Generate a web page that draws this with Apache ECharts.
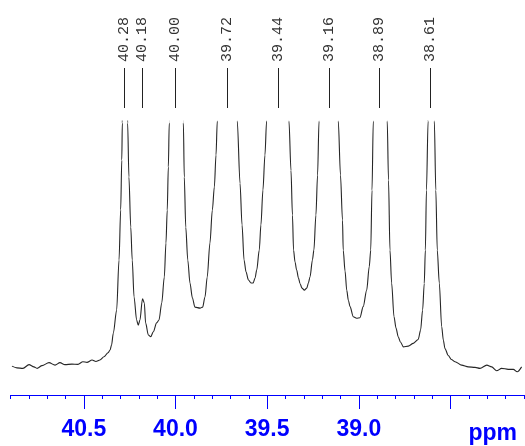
<!DOCTYPE html>
<html>
<head>
<meta charset="utf-8">
<script src="https://cdn.jsdelivr.net/npm/echarts@6/dist/echarts.min.js"></script>
<style>
  html, body { margin: 0; padding: 0; background: #ffffff; }
  #chart { width: 525px; height: 446px; }
</style>
</head>
<body>
<div id="chart"></div>
<script>
// 13C spectrum trace: chemical shift (ppm) and relative intensity
const shiftPpm = [
  40.892, 40.865, 40.832, 40.799, 40.772, 40.755, 40.728, 40.690, 40.657, 40.630,
  40.603, 40.565, 40.532, 40.505, 40.483, 40.455, 40.434, 40.412, 40.390, 40.368,
  40.357, 40.349, 40.339, 40.321, 40.308, 40.299, 40.293, 40.290, 40.280, 40.261,
  40.254, 40.244, 40.236, 40.226, 40.212, 40.203, 40.194, 40.180, 40.170, 40.163,
  40.148, 40.135, 40.121, 40.103, 40.090, 40.075, 40.061, 40.052, 40.045, 40.039,
  40.034, 40.000, 39.957, 39.952, 39.944, 39.933, 39.921, 39.908, 39.894, 39.866,
  39.852, 39.839, 39.827, 39.812, 39.799, 39.788, 39.779, 39.772, 39.720, 39.663,
  39.648, 39.637, 39.626, 39.615, 39.602, 39.588, 39.576, 39.566, 39.557, 39.543,
  39.534, 39.523, 39.512, 39.503, 39.440, 39.381, 39.370, 39.362, 39.356, 39.348,
  39.339, 39.329, 39.321, 39.310, 39.297, 39.284, 39.275, 39.266, 39.253, 39.245,
  39.234, 39.225, 39.217, 39.160, 39.112, 39.100, 39.089, 39.085, 39.075, 39.066,
  39.057, 39.048, 39.030, 39.012, 38.994, 38.976, 38.957, 38.943, 38.935, 38.928,
  38.921, 38.890, 38.845, 38.838, 38.830, 38.821, 38.808, 38.797, 38.785, 38.773,
  38.757, 38.730, 38.703, 38.676, 38.663, 38.652, 38.643, 38.637, 38.631, 38.622,
  38.610, 38.588, 38.580, 38.572, 38.561, 38.548, 38.539, 38.530, 38.512, 38.495,
  38.475, 38.439, 38.403, 38.366, 38.339, 38.302, 38.275, 38.248, 38.221, 38.185,
  38.157, 38.136, 38.112
];
const intensity = [
  0.7, 0.0, -0.2, 1.3, 0.4, -0.2, 0.9, 2.1, 1.1, 2.1,
  1.3, 1.5, 1.4, 2.5, 2.2, 3.2, 2.6, 3.2, 4.5, 6.1,
  7.2, 9.2, 14.1, 23.4, 43.7, 64.0, 84.2, 99.2, 300, 99.2,
  77.3, 57.0, 43.7, 28.7, 19.4, 17.3, 19.4, 28.0, 26.3, 18.2,
  13.3, 12.6, 14.6, 18.2, 19.4, 26.3, 36.8, 50.6, 63.9, 81.4,
  99.2, 700, 99.2, 77.3, 57.0, 43.7, 34.4, 28.4, 24.6, 24.2,
  24.6, 28.7, 36.8, 50.6, 63.9, 73.3, 86.2, 100, 1150, 100,
  74.8, 57.9, 43.7, 38.8, 35.6, 34.4, 34.4, 36.4, 39.6, 47.7,
  57.9, 72.0, 86.2, 100, 1300, 100, 80.0, 61.9, 47.7, 42.9,
  39.6, 36.4, 34.2, 32.3, 31.5, 32.3, 34.4, 36.9, 43.7, 47.7,
  61.9, 78.1, 100, 1150, 100, 78.1, 59.9, 47.7, 39.2, 31.5,
  27.4, 24.8, 20.7, 20.1, 20.3, 24.8, 31.5, 41.0, 47.7, 72.0,
  100, 700, 100, 76.1, 47.7, 34.4, 20.7, 16.1, 12.6, 10.5,
  8.5, 8.8, 9.9, 11.5, 15.3, 23.4, 34.2, 47.7, 72.0, 100,
  300, 100, 72.0, 47.7, 34.4, 16.7, 11.3, 7.8, 5.0, 3.4,
  2.5, 1.1, 0.4, 0.2, -0.2, 1.1, 0.4, -1.2, -0.2, -0.6,
  -0.6, -1.6, 0.4
];

// Picked peaks
const peakPpm = [40.28, 40.18, 40.00, 39.72, 39.44, 39.16, 38.89, 38.61];

// Scale ticks and labels
const axisRange = [38.1, 40.9];
const majorTicks = [38.5, 39.0, 39.5, 40.0, 40.5];
const tickLabels = [39.0, 39.5, 40.0, 40.5];
const minorTicks = [
  38.1, 38.2, 38.3, 38.4, 38.5, 38.6, 38.7, 38.8, 38.9, 39.0,
  39.1, 39.2, 39.3, 39.4, 39.5, 39.6, 39.7, 39.8, 39.9, 40.0,
  40.1, 40.2, 40.3, 40.4, 40.5, 40.6, 40.7, 40.8, 40.9
];
const unitLabel = 'ppm';

const BLUE = '#0000ff';
const TRACE = '#262626';
const LABEL_FONT = '"Liberation Sans", Arial, sans-serif';
const MONO_FONT = '"Courier New", "Liberation Mono", monospace';

const spectrum = shiftPpm.map((p, i) => [p, intensity[i]]);

const chart = echarts.init(document.getElementById('chart'), null, { renderer: 'canvas' });

const gridLeft = 10.5, gridRight = 1.2;

chart.setOption({
  animation: false,
  backgroundColor: '#ffffff',
  title: {
    text: unitLabel,
    right: 3,
    top: 417,
    textStyle: { color: BLUE, fontFamily: LABEL_FONT, fontWeight: 'bold', fontSize: 23 }
  },
  grid: [
    { left: gridLeft, right: gridRight, top: 121, bottom: 51 },
    { left: gridLeft, right: gridRight, top: 68, height: 40 }
  ],
  xAxis: [
    {
      type: 'value', gridIndex: 0, position: 'bottom', inverse: true,
      min: axisRange[0], max: axisRange[1],
      axisLine: { show: true, onZero: false, lineStyle: { color: BLUE, width: 1 } },
      axisTick: { show: true, inside: false, length: 14, customValues: majorTicks,
                  lineStyle: { color: BLUE, width: 1 } },
      axisLabel: {
        show: true, customValues: tickLabels, margin: 23,
        color: BLUE, fontFamily: LABEL_FONT, fontWeight: 'bold', fontSize: 23,
        formatter: v => Number(v).toFixed(1)
      },
      splitLine: { show: false }
    },
    {
      type: 'value', gridIndex: 0, position: 'bottom', inverse: true,
      min: axisRange[0], max: axisRange[1],
      axisLine: { show: false, onZero: false },
      axisTick: { show: true, inside: false, length: 4, customValues: minorTicks,
                  lineStyle: { color: BLUE, width: 1 } },
      axisLabel: { show: false },
      splitLine: { show: false }
    },
    {
      type: 'value', gridIndex: 1, inverse: true,
      min: axisRange[0], max: axisRange[1], show: false
    }
  ],
  yAxis: [
    { type: 'value', gridIndex: 0, min: -11, max: 100, show: false },
    { type: 'value', gridIndex: 1, min: 0, max: 1, show: false }
  ],
  series: [
    {
      type: 'line',
      xAxisIndex: 0, yAxisIndex: 0,
      data: spectrum,
      showSymbol: false,
      smooth: 0.3,
      smoothMonotone: 'x',
      clip: true,
      silent: true,
      lineStyle: { color: TRACE, width: 1.1 }
    },
    {
      type: 'custom',
      xAxisIndex: 2, yAxisIndex: 1,
      data: peakPpm.map(p => [p]),
      clip: false,
      silent: true,
      renderItem: (params, api) => {
        const p = api.value(0);
        const top = api.coord([p, 1]);
        const bottom = api.coord([p, 0]);
        const x = Math.round(top[0]) + 0.5;
        return {
          type: 'group',
          children: [
            {
              type: 'line',
              shape: { x1: x, y1: top[1], x2: x, y2: bottom[1] },
              style: { stroke: '#222222', lineWidth: 1 }
            },
            {
              type: 'text',
              x: x - 0.5,
              y: top[1] - 6,
              rotation: Math.PI / 2,
              style: {
                text: p.toFixed(2),
                fill: '#333333',
                font: '15px ' + MONO_FONT,
                align: 'left',
                verticalAlign: 'middle'
              }
            }
          ]
        };
      }
    }
  ]
});
</script>
</body>
</html>
